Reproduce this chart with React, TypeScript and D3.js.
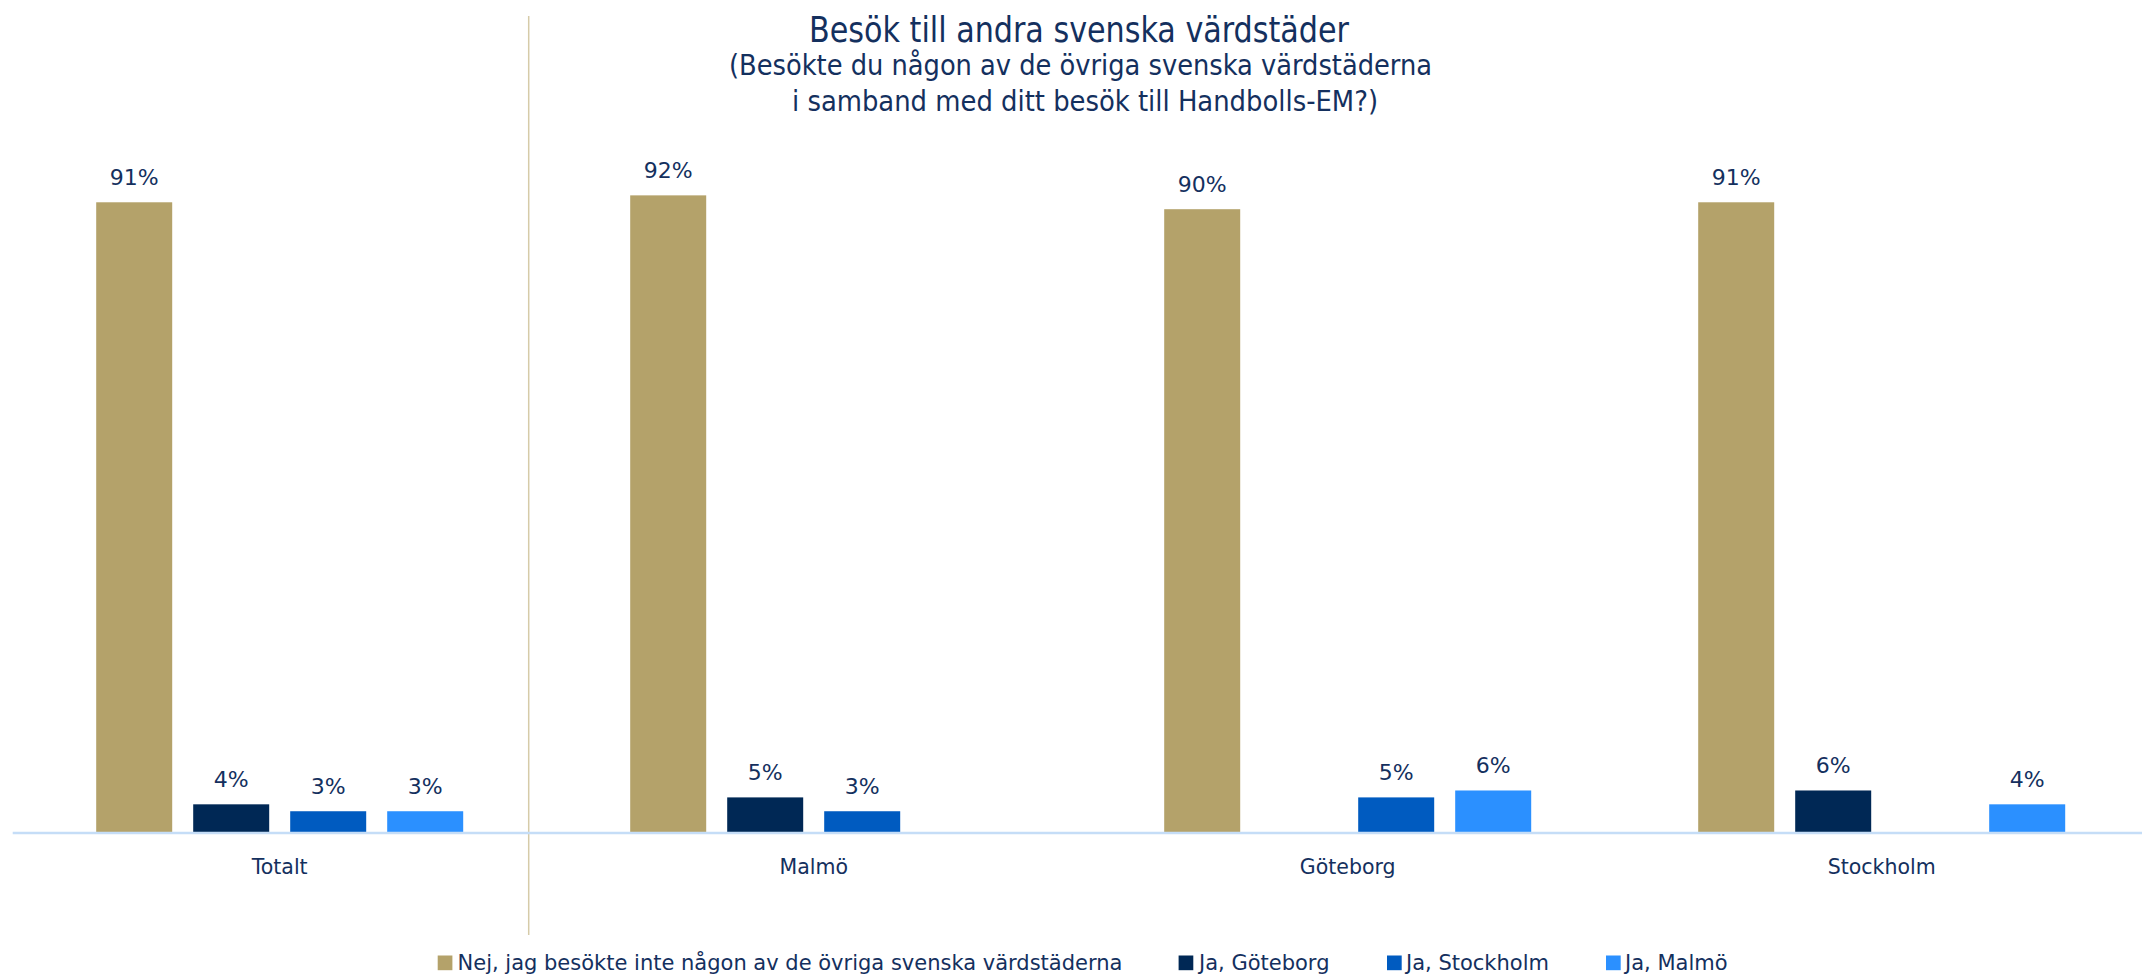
import React from "react";
import * as d3 from "d3";

const categories = ["Totalt", "Malmö", "Göteborg", "Stockholm"];
const seriesNames = [
  "Nej, jag besökte inte någon av de övriga svenska värdstäderna",
  "Ja, Göteborg",
  "Ja, Stockholm",
  "Ja, Malmö",
];
const nej: (number | null)[] = [91, 92, 90, 91];
const jaGoteborg: (number | null)[] = [4, 5, null, 6];
const jaStockholm: (number | null)[] = [3, 3, 5, null];
const jaMalmo: (number | null)[] = [3, null, 6, 4];
const seriesValues = [nej, jaGoteborg, jaStockholm, jaMalmo];
const colors = ["#b4a26a", "#002855", "#005bc0", "#2b90ff"];

const titleLines = [
  "Besök till andra svenska värdstäder",
  "(Besökte du någon av de övriga svenska värdstäderna",
  "i samband med ditt besök till Handbolls-EM?)",
];

const W = 2142;
const H = 978;
const TEXT = "#14305e";
const FONT = "'DejaVu Sans', Verdana, sans-serif";
const NARROW = "'Liberation Sans Narrow', 'DejaVu Sans Condensed', 'Liberation Sans', sans-serif";

export default function App() {
  const baseY = 832;
  const x0 = d3
    .scaleBand<string>()
    .domain(categories)
    .range([12.7, 12.7 + 4 * 534])
    .paddingInner(0)
    .paddingOuter(0);
  const x1 = d3
    .scaleBand<number>()
    .domain([0, 1, 2, 3])
    .range([83.5, 450.5])
    .paddingInner(21 / 97)
    .paddingOuter(0);
  const y = d3.scaleLinear().domain([0, 100]).range([baseY, baseY - 692]);

  const legendItems = [
    { sq: 437.7, tx: 457.5 },
    { sq: 1178.6, tx: 1199 },
    { sq: 1387, tx: 1406 },
    { sq: 1606, tx: 1625 },
  ];

  return (
    <svg
      width={W}
      height={H}
      style={{ position: "absolute", left: 0, top: 0, background: "#fff" }}
    >
      <rect x={0} y={0} width={W} height={H} fill="#fff" />
      {/* Title */}
      <text
        x={1079}
        y={42}
        textAnchor="middle"
        fontFamily={NARROW}
        fontSize={35}
        fill={TEXT}
        textLength={540}
        lengthAdjust="spacingAndGlyphs"
      >
        {titleLines[0]}
      </text>
      <text
        x={1080.5}
        y={75}
        textAnchor="middle"
        fontFamily={NARROW}
        fontSize={28}
        fill={TEXT}
        textLength={703}
        lengthAdjust="spacingAndGlyphs"
      >
        {titleLines[1]}
      </text>
      <text
        x={1085}
        y={111}
        textAnchor="middle"
        fontFamily={NARROW}
        fontSize={28}
        fill={TEXT}
        textLength={586}
        lengthAdjust="spacingAndGlyphs"
      >
        {titleLines[2]}
      </text>

      {/* separator */}
      <line x1={528.7} x2={528.7} y1={16} y2={935} stroke="#d6cba8" strokeWidth={1.5} />

      {/* bars */}
      {categories.map((c, ci) => (
        <g key={c} transform={`translate(${x0(c)},0)`}>
          {seriesValues.map((vals, si) => {
            const v = vals[ci];
            if (v === null) return null;
            const bx = x1(si)!;
            return (
              <g key={si}>
                <rect
                  x={bx}
                  y={y(v)}
                  width={x1.bandwidth()}
                  height={baseY - y(v)}
                  fill={colors[si]}
                />
                <text
                  x={bx + x1.bandwidth() / 2}
                  y={y(v) - 17}
                  textAnchor="middle"
                  fontFamily={FONT}
                  fontSize={22}
                  fill={TEXT}
                >
                  {d3.format(".0f")(v)}%
                </text>
              </g>
            );
          })}
          <text
            x={x0.bandwidth() / 2}
            y={874}
            textAnchor="middle"
            fontFamily={FONT}
            fontSize={20.5}
            fill={TEXT}
          >
            {c}
          </text>
        </g>
      ))}

      {/* axis */}
      <line x1={12.7} x2={W} y1={baseY + 1} y2={baseY + 1} stroke="#c5ddf7" strokeWidth={2.5} />

      {/* legend */}
      {seriesNames.map((n, i) => (
        <g key={n}>
          <rect x={legendItems[i].sq} y={955.5} width={14.7} height={14.7} fill={colors[i]} />
          <text
            x={legendItems[i].tx}
            y={970}
            fontFamily={FONT}
            fontSize={21}
            fill={TEXT}
          >
            {n}
          </text>
        </g>
      ))}
    </svg>
  );
}
